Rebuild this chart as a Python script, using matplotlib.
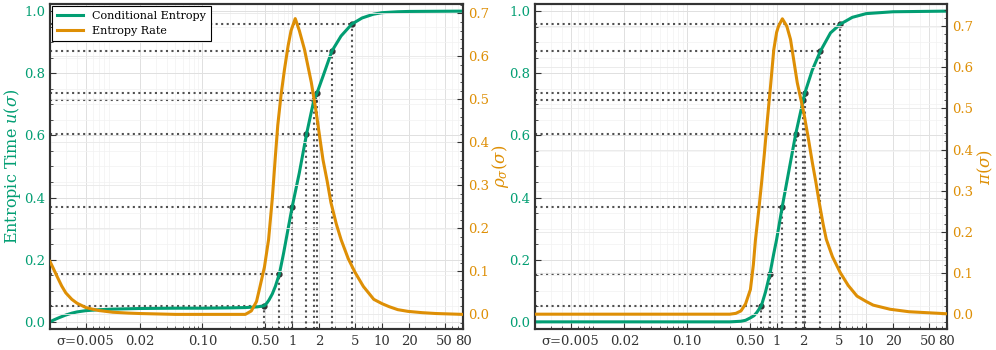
import matplotlib
matplotlib.use("Agg")
import matplotlib.pyplot as plt
from matplotlib.ticker import FixedLocator, FixedFormatter, LogLocator, NullFormatter, AutoMinorLocator
from matplotlib.lines import Line2D

GREEN = "#029E73"
ORANGE = "#DE8F05"
DARK = "#333333"

plt.rcParams["font.family"] = ["DejaVu Serif"]
plt.rcParams["mathtext.fontset"] = "dejavuserif"

# left panel: conditional entropy u(sigma) and entropy rate rho(sigma)
sig_u_left = [0.002, 0.0022, 0.0025, 0.003, 0.0035, 0.004, 0.005, 0.007, 0.01, 0.02, 0.05, 0.1,
              0.2, 0.3, 0.4, 0.45, 0.49, 0.52, 0.55, 0.6, 0.65, 0.72, 0.8, 0.9, 1.0, 1.2, 1.44,
              1.74, 1.88, 2.2, 2.76, 3.5, 4.6, 6, 8, 10, 15, 20, 80]
u_left = [0.0, 0.006, 0.013, 0.022, 0.028, 0.032, 0.036, 0.039, 0.041, 0.043, 0.044, 0.044,
          0.045, 0.046, 0.048, 0.050, 0.052, 0.06, 0.07, 0.09, 0.115, 0.155, 0.22, 0.30, 0.371,
          0.48, 0.603, 0.713, 0.735, 0.79, 0.871, 0.92, 0.958, 0.978, 0.99, 0.995, 0.998, 0.999, 1.0]

sig_r_left = [0.002, 0.0022, 0.0024, 0.0027, 0.003, 0.0035, 0.004, 0.005, 0.006, 0.007, 0.01,
              0.015, 0.02, 0.05, 0.1, 0.3, 0.35, 0.4, 0.43, 0.49, 0.545, 0.6, 0.65, 0.69, 0.75,
              0.82, 0.9, 0.97, 1.08, 1.2, 1.37, 1.63, 1.85, 2.0, 2.2, 2.45, 2.7, 3.1, 3.5, 4.2,
              5.0, 6.2, 8.1, 10, 12, 15, 19.5, 28, 40, 80]
rho_left = [0.123, 0.105, 0.088, 0.066, 0.05, 0.035, 0.026, 0.016, 0.012, 0.009, 0.005,
            0.003, 0.002, 0.0, 0.0, 0.0, 0.008, 0.03, 0.058, 0.11, 0.174, 0.27, 0.37, 0.44, 0.51,
            0.57, 0.625, 0.66, 0.688, 0.66, 0.616, 0.54, 0.47, 0.42, 0.36, 0.31, 0.26, 0.21, 0.174,
            0.13, 0.098, 0.065, 0.035, 0.025, 0.018, 0.011, 0.007, 0.004, 0.002, 0.0]

# right panel: u(sigma) and pi(sigma)
sig_u_right = [0.002, 0.1, 0.3, 0.35, 0.4, 0.45, 0.51, 0.56, 0.6, 0.676, 0.75, 0.843, 0.93, 1.0,
               1.157, 1.3, 1.63, 1.98, 2.06, 2.5, 3.08, 4.0, 5.14, 7, 10, 20, 80]
u_right = [0.0, 0.0, 0.0, 0.001, 0.002, 0.005, 0.013, 0.02, 0.03, 0.052, 0.095, 0.155, 0.22, 0.265,
           0.371, 0.45, 0.603, 0.713, 0.735, 0.81, 0.871, 0.93, 0.958, 0.98, 0.992, 0.998, 1.0]

sig_p_right = [0.002, 0.1, 0.3, 0.35, 0.4, 0.45, 0.51, 0.55, 0.58, 0.63, 0.68, 0.73, 0.79, 0.86,
               0.93, 1.0, 1.05, 1.16, 1.3, 1.43, 1.7, 2.01, 2.25, 2.5, 2.75, 3.0, 3.3, 3.59, 4.2,
               5.14, 6.3, 7.9, 10, 12, 18.5, 30, 66, 80]
pi_right = [0.0, 0.0, 0.0, 0.002, 0.008, 0.025, 0.06, 0.12, 0.18, 0.25, 0.32, 0.39, 0.474, 0.56,
            0.643, 0.685, 0.70, 0.718, 0.70, 0.668, 0.563, 0.49, 0.43, 0.37, 0.32, 0.27, 0.22,
            0.182, 0.14, 0.101, 0.07, 0.044, 0.031, 0.022, 0.012, 0.006, 0.002, 0.001]

# marked points (sigma, u)
u_marks = [0.052, 0.155, 0.371, 0.603, 0.713, 0.735, 0.871, 0.958]
sig_marks_left = [0.49, 0.72, 1.0, 1.44, 1.74, 1.88, 2.76, 4.6]
sig_marks_right = [0.676, 0.843, 1.157, 1.63, 1.98, 2.06, 3.08, 5.14]

xticks = [0.005, 0.02, 0.1, 0.5, 1, 2, 5, 10, 20, 50, 80]
xticklabels = ["σ=0.005", "0.02", "0.10", "0.50", "1", "2", "5", "10", "20", "50", "80"]

XLIM = (0.002, 80)
ULIM = (-0.023, 1.023)

fig = plt.figure(figsize=(9.96, 3.5), dpi=100)
ax_l = fig.add_axes([0.0502, 0.06, 0.4147, 0.9286])
ax_r = fig.add_axes([0.5371, 0.06, 0.4137, 0.9286])


def style_axes(ax, tw, rlim):
    ax.set_xscale("log")
    ax.set_xlim(*XLIM)
    ax.set_ylim(*ULIM)
    tw.set_ylim(*rlim)
    ax.xaxis.set_major_locator(FixedLocator(xticks))
    ax.xaxis.set_major_formatter(FixedFormatter(xticklabels))
    ax.xaxis.set_minor_locator(LogLocator(base=10, subs=range(2, 10), numticks=20))
    ax.xaxis.set_minor_formatter(NullFormatter())
    ax.set_yticks([0.0, 0.2, 0.4, 0.6, 0.8, 1.0])
    ax.yaxis.set_minor_locator(AutoMinorLocator(4))
    tw.set_yticks([0.0, 0.1, 0.2, 0.3, 0.4, 0.5, 0.6, 0.7])
    tw.yaxis.set_minor_locator(AutoMinorLocator(5))
    for a in (ax, tw):
        for s in a.spines.values():
            s.set_color(DARK)
            s.set_linewidth(1.5)
    ax.tick_params(axis="x", which="both", direction="in", colors=DARK, labelsize=9.5, pad=4)
    ax.tick_params(axis="x", which="major", length=4)
    ax.tick_params(axis="x", which="minor", length=2.5)
    ax.tick_params(axis="y", which="both", direction="in", color=DARK, labelcolor=GREEN, labelsize=9.5)
    ax.tick_params(axis="y", which="major", length=4)
    ax.tick_params(axis="y", which="minor", length=2.5)
    tw.tick_params(axis="y", which="both", direction="in", color=DARK, labelcolor=ORANGE, labelsize=9.5)
    tw.tick_params(axis="y", which="major", length=4)
    tw.tick_params(axis="y", which="minor", length=2.5)
    ax.grid(True, which="major", color="#e0e0e0", linewidth=0.7)
    ax.grid(True, which="minor", color="#f2f2f2", linewidth=0.5)
    tw.grid(True, which="major", axis="y", color="#e8e8e8", linewidth=0.6)
    ax.set_axisbelow(True)


def draw_marks(ax, sig_marks):
    for s, u in zip(sig_marks, u_marks):
        ax.plot([XLIM[0], s], [u, u], ls=":", color=DARK, lw=1.5, alpha=0.85, zorder=3)
        ax.plot([s, s], [ULIM[0], u], ls=":", color=DARK, lw=1.5, alpha=0.85, zorder=3)
    ax.plot(sig_marks, u_marks, "o", color=DARK, ms=3.5, zorder=4)


# left panel
tw_l = ax_l.twinx()
style_axes(ax_l, tw_l, (-0.034, 0.722))
draw_marks(ax_l, sig_marks_left)
ax_l.plot(sig_u_left, u_left, color=GREEN, lw=2.2, zorder=5)
tw_l.plot(sig_r_left, rho_left, color=ORANGE, lw=2.2, zorder=5)
ax_l.set_ylabel(r"Entropic Time $u(\sigma)$", color=GREEN, fontsize=11.5, labelpad=0.5)
tw_l.set_ylabel(r"$\rho_\sigma(\sigma)$", color=ORANGE, fontsize=12, labelpad=1)

handles = [Line2D([], [], color=GREEN, lw=2.2), Line2D([], [], color=ORANGE, lw=2.2)]
leg = tw_l.legend(handles, ["Conditional Entropy", "Entropy Rate"], loc="upper left",
                  fontsize=8, fancybox=False, framealpha=1, edgecolor="black",
                  borderaxespad=0.2, handlelength=2.4)
leg.get_frame().set_linewidth(0.8)

# right panel
tw_r = ax_r.twinx()
style_axes(ax_r, tw_r, (-0.036, 0.754))
draw_marks(ax_r, sig_marks_right)
ax_r.plot(sig_u_right, u_right, color=GREEN, lw=2.2, zorder=5)
tw_r.plot(sig_p_right, pi_right, color=ORANGE, lw=2.2, zorder=5)
tw_r.set_ylabel(r"$\pi(\sigma)$", color=ORANGE, fontsize=12, labelpad=2)

fig.savefig("out.png", dpi=100)
